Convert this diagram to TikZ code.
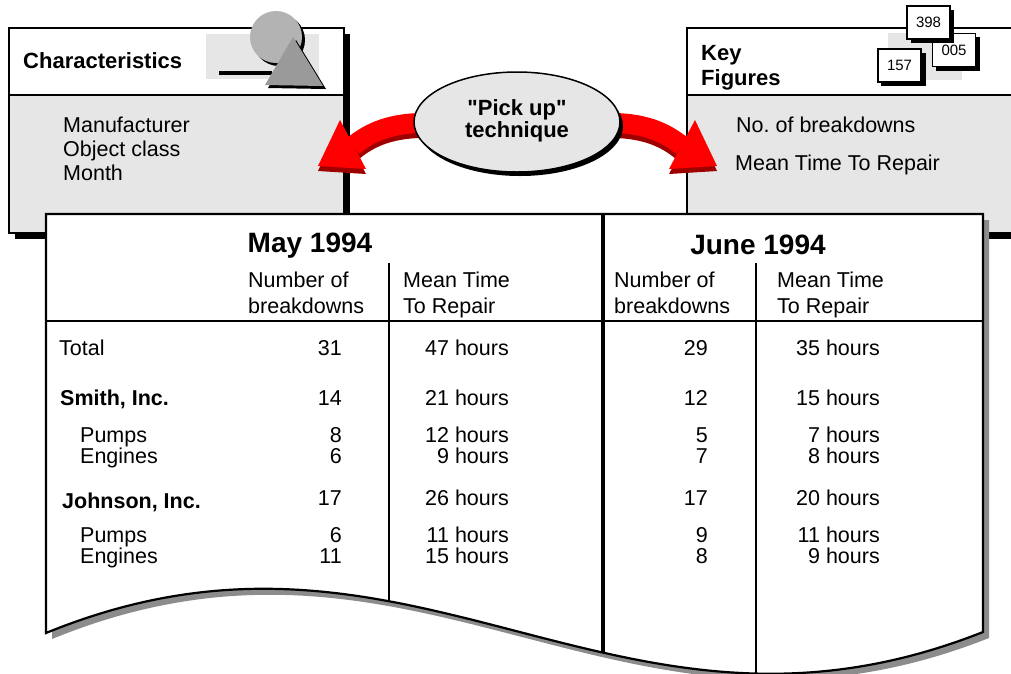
\documentclass[tikz,border=0pt]{standalone}
\usepackage{fontspec}
\setmainfont{Liberation Sans}[Ligatures=TeXOff]
\usetikzlibrary{shapes.geometric}
\definecolor{lgray}{HTML}{E6E6E6}
\definecolor{cgray}{HTML}{B3B3B3}
\definecolor{tgray}{HTML}{9A9A9A}
\definecolor{sgray}{HTML}{8C8C8C}
\definecolor{dred}{HTML}{9E0000}
\def\tablepath{(46,214) -- (983,214) -- (983,632) .. controls (614,778) and (415,482) .. (46,633) -- cycle}
\begin{document}
\begin{tikzpicture}[x=1pt,y=-1pt,
  lt/.style={inner sep=0pt, anchor=base west, font=\fontsize{21.5}{24}\selectfont},
  rt/.style={inner sep=0pt, anchor=base east, font=\fontsize{21.5}{24}\selectfont},
  blt/.style={inner sep=0pt, anchor=base west, font=\bfseries\fontsize{21.5}{24}\selectfont},
  htitle/.style={inner sep=0pt, anchor=base west, font=\bfseries\fontsize{22}{25}\selectfont},
  month/.style={inner sep=0pt, anchor=base, font=\bfseries\fontsize{28}{30}\selectfont},
  numbox/.style={draw=black, line width=1.5, fill=white, minimum width=43, minimum height=33, inner sep=0pt, font=\fontsize{15}{17}\selectfont},
  boxline/.style={draw=black, line width=2},
  redband/.style={line width=20, red},
  shadband/.style={line width=20, dred}]
\clip (0,0) rectangle (1011,673);
\fill[white] (0,0) rectangle (1011,673);

% ---------- Characteristics box ----------
\fill[black] (15,34) rectangle (350,239);
\fill[lgray] (9,28) rectangle (344,233);
\fill[white] (9,28) rectangle (344,95);
\draw[boxline] (9,28) rectangle (344,233);
\draw[line width=1.5] (9,95) -- (344,95);
\node[htitle] (charT) at (23,68) {Characteristics};
\node[lt] (manu) at (63,132) {Manufacturer};
\node[lt] (objc) at (63,156) {Object class};
\node[lt] (mon) at (63,180) {Month};
% icon
\fill[lgray] (206,34) rectangle (319,79);
\draw[line width=4] (219,73) -- (272,73);
\fill[black] (279,40) circle (26);
\fill[cgray] (276,37) circle (26);
\fill[black] (296,40) -- (268,88) -- (326,89) -- cycle;
\fill[tgray] (293,37) -- (265,85) -- (323,86) -- cycle;

% ---------- Key Figures box ----------
\fill[black] (693,34) rectangle (1026,239);
\fill[lgray] (687,28) rectangle (1020,233);
\fill[white] (687,28) rectangle (1020,95);
\draw[boxline] (687,28) rectangle (1020,233);
\draw[line width=1.5] (687,95) -- (1020,95);
\node[htitle] (keyT) at (701,60) {Key};
\node[htitle] (figT) at (701,85) {Figures};
\node[lt] (nob) at (736,132) {No.\ of breakdowns};
\node[lt] (mttr) at (735,170) {Mean Time To Repair};
\fill[lgray] (888,33) rectangle (962,80);
\fill[black] (881,53) rectangle (926,86);
\node[numbox] (n157) at (899.5,65.5) {157};
\fill[black] (936,37) rectangle (980,71);
\node[numbox] (n005) at (954,50) {005};
\fill[black] (911,10) rectangle (954,43);
\node[numbox] (n398) at (928.5,22.5) {398};

% ---------- red arrows ----------
\begin{scope}[shift={(0,5)}]
\draw[shadband] (430,123) .. controls (392,122) and (370,132) .. (353,146);
\fill[dred] (340,120) -- (318,166) -- (366,169) -- cycle;
\draw[shadband] (605,123) .. controls (643,122) and (665,132) .. (682,146);
\fill[dred] (695,120) -- (717,166) -- (669,169) -- cycle;
\end{scope}
\draw[redband] (430,123) .. controls (392,122) and (370,132) .. (353,146);
\fill[red] (340,120) -- (318,166) -- (366,169) -- cycle;
\draw[redband] (605,123) .. controls (643,122) and (665,132) .. (682,146);
\fill[red] (695,120) -- (717,166) -- (669,169) -- cycle;

% ---------- ellipse ----------
\fill[black] (520,126) ellipse (103 and 50);
\node[ellipse, draw=black, line width=1.5, fill=lgray, minimum width=206, minimum height=100, inner sep=0pt] (pick) at (517,122) {};
\node[inner sep=0pt, anchor=base, font=\bfseries\fontsize{22}{25}\selectfont] (pk1) at (517,115) {"Pick up"};
\node[inner sep=0pt, anchor=base, font=\bfseries\fontsize{22}{25}\selectfont] (pk2) at (517,137) {technique};

% ---------- table ----------
\fill[sgray, shift={(6,6)}] \tablepath;
\fill[white] \tablepath;
\begin{scope}
\clip \tablepath;
\draw[line width=1.8] (389,263) -- (389,700);
\draw[line width=1.8] (756,263) -- (756,700);
\draw[line width=3.5] (603,200) -- (603,700);
\end{scope}
\draw[line width=1.8] (46,321) -- (983,321);
\draw[line width=2.2, line join=miter] \tablepath;

\node[month] (may) at (310,252) {May 1994};
\node[month] (june) at (758,254) {June 1994};
\node[lt] (h1a) at (248,287) {Number of};
\node[lt] (h1b) at (248,313) {breakdowns};
\node[lt] (h2a) at (403,287) {Mean Time};
\node[lt] (h2b) at (403,313) {To Repair};
\node[lt] (h3a) at (614,287) {Number of};
\node[lt] (h3b) at (614,313) {breakdowns};
\node[lt] (h4a) at (777,287) {Mean Time};
\node[lt] (h4b) at (777,313) {To Repair};

\node[lt] (r1) at (59,355) {Total};
\node[blt] (r2) at (60,405) {Smith, Inc.};
\node[lt] (r3) at (80,442) {Pumps};
\node[lt] (r4) at (80,463) {Engines};
\node[blt] (r5) at (62,508) {Johnson, Inc.};
\node[lt] (r6) at (80,542) {Pumps};
\node[lt] (r7) at (80,563) {Engines};

\node[rt] (a1) at (342,355) {31};
\node[rt] (a2) at (342,405) {14};
\node[rt] (a3) at (342,442) {8};
\node[rt] (a4) at (342,463) {6};
\node[rt] (a5) at (342,505) {17};
\node[rt] (a6) at (342,542) {6};
\node[rt] (a7) at (342,563) {11};

\node[rt] (b1) at (509,355) {47 hours};
\node[rt] (b2) at (509,405) {21 hours};
\node[rt] (b3) at (509,442) {12 hours};
\node[rt] (b4) at (509,463) {9 hours};
\node[rt] (b5) at (509,505) {26 hours};
\node[rt] (b6) at (509,542) {11 hours};
\node[rt] (b7) at (509,563) {15 hours};

\node[rt] (c1) at (708,355) {29};
\node[rt] (c2) at (708,405) {12};
\node[rt] (c3) at (708,442) {5};
\node[rt] (c4) at (708,463) {7};
\node[rt] (c5) at (708,505) {17};
\node[rt] (c6) at (708,542) {9};
\node[rt] (c7) at (708,563) {8};

\node[rt] (d1) at (880,355) {35 hours};
\node[rt] (d2) at (880,405) {15 hours};
\node[rt] (d3) at (880,442) {7 hours};
\node[rt] (d4) at (880,463) {8 hours};
\node[rt] (d5) at (880,505) {20 hours};
\node[rt] (d6) at (880,542) {11 hours};
\node[rt] (d7) at (880,563) {9 hours};
\end{tikzpicture}
\end{document}
